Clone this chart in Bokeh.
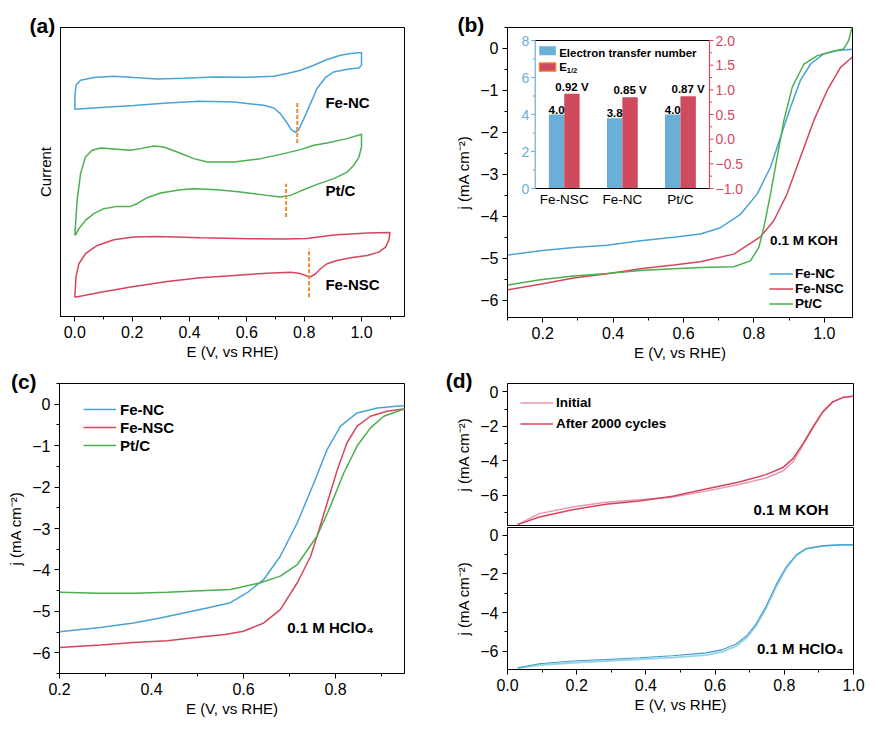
import numpy as np
from bokeh.plotting import figure
from bokeh.models import (Range1d, SingleIntervalTicker, FixedTicker, CustomJSTickFormatter,
                          Label, Legend, LegendItem)
from bokeh.layouts import row, column
from bokeh.embed import file_html
from bokeh.resources import INLINE
from bokeh.core.properties import value

FONT = "Liberation Sans"
MINUS = "\u2212"

# ---------------- data: (a) cyclic voltammograms (current in a.u.) ----------------
cv_fenc_E = [0.000, 0.000, 0.004, 0.020, 0.066, 0.136, 0.206, 0.287, 0.380, 0.485, 0.601, 0.694,
             0.741, 0.787, 0.834, 0.880, 0.927, 0.962, 1.000, 1.000, 0.991, 0.950, 0.903, 0.874,
             0.845, 0.822, 0.799, 0.781, 0.770, 0.755, 0.738, 0.717, 0.694, 0.659, 0.555, 0.438,
             0.322, 0.206, 0.090, 0.000]
cv_fenc_I = [206.7, 219.3, 231.0, 236.0, 238.7, 240.0, 238.7, 237.3, 238.0, 239.3, 239.0, 240.0,
             242.7, 246.0, 251.0, 256.7, 261.0, 262.7, 263.7, 251.0, 248.3, 247.0, 244.3, 238.7,
             227.7, 212.7, 197.7, 186.7, 184.0, 186.7, 194.3, 202.7, 208.3, 211.0, 214.3, 215.0,
             213.3, 210.7, 208.7, 207.0]
cv_ptc_E = [0.000, 0.004, 0.008, 0.020, 0.037, 0.060, 0.090, 0.136, 0.194, 0.229, 0.276, 0.310,
            0.357, 0.415, 0.462, 0.555, 0.648, 0.729, 0.787, 0.834, 0.880, 0.950, 1.000, 1.000,
            0.991, 0.973, 0.950, 0.903, 0.845, 0.787, 0.752, 0.717, 0.671, 0.578, 0.497, 0.415,
            0.369, 0.299, 0.252, 0.217, 0.194, 0.148, 0.101, 0.066, 0.037, 0.014, 0.002]
cv_ptc_I = [81.0, 99.3, 116.0, 142.7, 159.3, 166.0, 168.3, 167.3, 166.0, 167.7, 170.3, 169.3,
            164.3, 157.7, 154.3, 154.3, 157.7, 162.7, 166.7, 171.0, 173.3, 177.7, 182.0, 169.3,
            159.3, 151.0, 144.3, 137.7, 132.0, 125.3, 121.0, 119.3, 121.0, 124.3, 126.7, 127.7,
            126.7, 123.3, 118.7, 112.7, 110.0, 110.0, 107.7, 102.7, 96.0, 87.7, 81.0]
cv_fensc_E = [0.000, 0.004, 0.014, 0.037, 0.078, 0.136, 0.206, 0.287, 0.438, 0.613, 0.729, 0.810,
              0.903, 1.020, 1.099, 1.099, 1.095, 1.084, 1.060, 1.020, 0.962, 0.915, 0.880, 0.857,
              0.840, 0.820, 0.805, 0.781, 0.752, 0.671, 0.555, 0.438, 0.322, 0.206, 0.090, 0.000]
cv_fensc_I = [19.3, 39.3, 52.7, 62.7, 71.0, 76.7, 79.3, 80.0, 78.7, 77.7, 77.3, 78.0,
              81.3, 83.3, 84.0, 82.7, 76.0, 69.3, 64.3, 61.0, 58.7, 56.0, 52.7, 47.7,
              42.7, 39.3, 41.0, 43.3, 44.3, 43.3, 41.0, 38.7, 35.0, 30.0, 24.3, 19.3]
cv_peak_E = [0.776, 0.737, 0.817]
cv_peak_lo = [173.3, 99.3, 19.3]
cv_peak_hi = [214.3, 132.7, 67.7]
cv_names = ["Fe-NC", "Pt/C", "Fe-NSC"]
cv_name_E = [0.874, 0.874, 0.874]
cv_name_I = [213.7, 126.0, 31.7]

# ---------------- data: (b) LSV in 0.1 M KOH ----------------
b_fenc_E = [0.10, 0.193, 0.288, 0.383, 0.478, 0.572, 0.648, 0.705, 0.762, 0.809, 0.847, 0.875,
            0.904, 0.932, 0.961, 0.998, 1.037, 1.079]
b_fenc_j = [-4.92, -4.82, -4.74, -4.69, -4.58, -4.50, -4.42, -4.27, -3.95, -3.47, -2.83, -2.12,
            -1.40, -0.76, -0.37, -0.13, -0.05, -0.02]
b_fensc_E = [0.10, 0.193, 0.288, 0.383, 0.478, 0.572, 0.648, 0.743, 0.818, 0.856, 0.894, 0.932,
             0.970, 1.008, 1.046, 1.079]
b_fensc_j = [-5.75, -5.62, -5.47, -5.37, -5.25, -5.16, -5.08, -4.90, -4.49, -4.11, -3.47, -2.59,
             -1.72, -1.00, -0.45, -0.21]
b_ptc_E = [0.10, 0.193, 0.288, 0.383, 0.478, 0.572, 0.648, 0.743, 0.790, 0.814, 0.828, 0.847,
           0.866, 0.885, 0.909, 0.942, 0.980, 1.027, 1.055, 1.069, 1.079]
b_ptc_j = [-5.64, -5.51, -5.42, -5.36, -5.29, -5.25, -5.22, -5.20, -5.06, -4.74, -4.27, -3.47,
           -2.59, -1.72, -0.92, -0.37, -0.17, -0.06, -0.01, 0.19, 0.51]

inset_cats = ["Fe-NSC", "Fe-NC", "Pt/C"]
inset_n = [4.0, 3.8, 4.0]              # electron transfer number
inset_e12 = [0.92, 0.85, 0.87]         # E1/2 (V)
inset_n_lim = (0, 8)
inset_e_lim = (-1.0, 2.0)
inset_n_major = [0, 2, 4, 6, 8]
inset_n_minor = [1, 3, 5, 7]
inset_e_major = [-1.0, -0.5, 0.0, 0.5, 1.0, 1.5, 2.0]
inset_e_minor = [-0.75, -0.25, 0.25, 0.75, 1.25, 1.75]

# ---------------- data: (c) LSV in 0.1 M HClO4 ----------------
c_fenc_E = [0.2, 0.289, 0.361, 0.419, 0.470, 0.521, 0.5715, 0.608, 0.644, 0.680, 0.717, 0.753,
            0.782, 0.811, 0.847, 0.891, 0.951]
c_fenc_j = [-5.49, -5.39, -5.28, -5.16, -5.04, -4.92, -4.79, -4.55, -4.23, -3.67, -2.86, -1.90,
            -1.09, -0.53, -0.21, -0.09, -0.03]
c_fensc_E = [0.2, 0.289, 0.361, 0.434, 0.506, 0.560, 0.600, 0.644, 0.680, 0.717, 0.746, 0.760,
             0.782, 0.804, 0.825, 0.847, 0.876, 0.912, 0.951]
c_fensc_j = [-5.87, -5.81, -5.75, -5.71, -5.62, -5.56, -5.48, -5.28, -4.96, -4.31, -3.67, -3.18,
             -2.38, -1.58, -0.93, -0.53, -0.29, -0.17, -0.11]
c_ptc_E = [0.2, 0.289, 0.361, 0.434, 0.506, 0.5715, 0.637, 0.680, 0.717, 0.760, 0.789, 0.818,
           0.847, 0.876, 0.905, 0.951]
c_ptc_j = [-4.54, -4.56, -4.56, -4.54, -4.50, -4.47, -4.31, -4.15, -3.87, -3.18, -2.46, -1.66,
           -1.01, -0.57, -0.29, -0.11]

# ---------------- data: (d) stability ----------------
d_koh_E = [0.029, 0.092, 0.188, 0.284, 0.381, 0.477, 0.574, 0.670, 0.747, 0.796, 0.825, 0.854,
           0.883, 0.911, 0.940, 0.969, 0.998]
d_koh_init = [-7.72, -7.08, -6.70, -6.42, -6.27, -6.12, -5.77, -5.38, -5.01, -4.60, -4.08, -3.10,
              -2.07, -1.18, -0.58, -0.33, -0.25]
d_koh_after = [-7.72, -7.28, -6.85, -6.54, -6.35, -6.07, -5.65, -5.24, -4.81, -4.40, -3.88, -3.01,
               -2.04, -1.16, -0.58, -0.33, -0.25]
d_acid_E = [0.029, 0.092, 0.188, 0.284, 0.381, 0.477, 0.574, 0.622, 0.661, 0.690, 0.718, 0.747,
            0.776, 0.806, 0.835, 0.863, 0.911, 0.960, 0.998]
d_acid_init = [-6.89, -6.72, -6.60, -6.51, -6.43, -6.34, -6.21, -6.03, -5.74, -5.34, -4.71, -3.79,
               -2.70, -1.70, -1.05, -0.70, -0.55, -0.50, -0.50]
d_acid_after = [-6.86, -6.65, -6.51, -6.43, -6.34, -6.24, -6.09, -5.92, -5.63, -5.23, -4.60, -3.69,
                -2.57, -1.62, -1.01, -0.70, -0.55, -0.50, -0.50]

# ---------------- colours ----------------
BLUE = "#4aa3d5"
RED = "#d6455c"
GREEN = "#4caf50"
ORANGE = "#ee8a2c"
BAR_BLUE = "#6baed6"
BAR_RED = "#cf4a5d"
AX_BLUE = "#6baed6"
AX_RED = "#d9475e"
PINK = "#e898b6"
LBLUE = "#98d3e8"
DBLUE = "#3c9bcb"


def base_fig(xr, yr, fw, fh, bl, br, bt, bb, x_axis=True):
    kw = {}
    if not x_axis:
        kw["x_axis_location"] = None
    p = figure(x_range=Range1d(*xr), y_range=Range1d(*yr), frame_width=fw, frame_height=fh,
               min_border_left=bl, min_border_right=br, min_border_top=bt, min_border_bottom=bb,
               output_backend="svg", toolbar_location=None, tools="", **kw)
    p.xgrid.visible = False
    p.ygrid.visible = False
    p.outline_line_color = "black"
    p.outline_line_width = 1
    p.outline_line_alpha = 1
    p.background_fill_color = "white"
    p.border_fill_color = "white"
    return p


def fmt(d):
    return CustomJSTickFormatter(
        code="const s = Math.abs(tick).toFixed(%d); return (tick < -1e-9 ? '%s' : '') + s;" % (d, MINUS))


def style_axis(ax, label, interval=None, digits=1, label_standoff=2):
    ax.axis_label = label
    ax.axis_label_text_font = FONT
    ax.axis_label_text_font_size = "15px"
    ax.axis_label_text_font_style = "normal"
    ax.axis_label_text_color = "black"
    ax.axis_label_standoff = label_standoff
    ax.major_label_text_font = FONT
    ax.major_label_text_font_size = "16px"
    ax.major_label_text_color = "black"
    ax.axis_line_color = "black"
    ax.major_tick_line_color = "black"
    ax.minor_tick_line_color = "black"
    ax.major_tick_in = 0
    ax.minor_tick_in = 0
    ax.major_tick_out = 5
    ax.minor_tick_out = 3
    ax.major_label_standoff = 4
    if interval is None:
        ax.ticker = FixedTicker(ticks=[], minor_ticks=[])
        ax.major_tick_out = 0
        ax.minor_tick_out = 0
        ax.major_label_standoff = 0
    else:
        ax.ticker = SingleIntervalTicker(interval=interval, num_minor_ticks=2)
        ax.formatter = fmt(digits)


def panel_label(p, text, x, y, dx, dy):
    # anchored at the frame's top-left corner, shifted in pixels; overlay level (not clipped)
    p.text(x=[x], y=[y], text=[text], x_offset=dx, y_offset=dy, text_font=value(FONT),
           text_font_size=value("21px"), text_font_style="bold", text_baseline="middle",
           text_align="left", text_color="black", level="overlay")


def note(p, text, x, y, size):
    p.add_layout(Label(x=x, y=y, text=text, text_font=FONT, text_font_size=size,
                       text_font_style="bold", text_baseline="middle", text_color="black"))


def legend(p, items, loc, gw, gh, size, standoff):
    lg = Legend(items=items, location=loc, orientation="vertical", glyph_width=gw, glyph_height=gh,
                label_height=gh, label_standoff=standoff, spacing=0, padding=0, margin=0,
                border_line_color=None, background_fill_alpha=0, label_text_font=FONT,
                label_text_font_size=size, label_text_font_style="bold", label_text_color="black")
    p.add_layout(lg)


YLAB = "j (mA cm\u207b\u00b2)"
XLAB = "E (V, vs RHE)"
LW = 1.5

# ================= (a) =================
pa = base_fig((-0.05, 1.15), (0, 288.7), 344, 289, 60, 36, 27, 50)
style_axis(pa.xaxis[0], XLAB, 0.2, 1)
style_axis(pa.yaxis[0], "Current", None, label_standoff=7)
for E, I, c in [(cv_fenc_E, cv_fenc_I, BLUE), (cv_ptc_E, cv_ptc_I, GREEN), (cv_fensc_E, cv_fensc_I, RED)]:
    pa.line(E, I, line_color=c, line_width=LW)
pa.segment(x0=cv_peak_E, y0=cv_peak_lo, x1=cv_peak_E, y1=cv_peak_hi, line_color=ORANGE,
           line_width=2, line_dash="4 2")
pa.text(x=cv_name_E, y=cv_name_I, text=cv_names, text_font=value(FONT), text_font_size=value("15px"),
        text_font_style="bold", text_baseline="middle", text_align="left", text_color="black")
panel_label(pa, "(a)", -0.05, 288.7, -31, -2)

# ================= (b) =================
FWB, FHB = 345, 290
pb = base_fig((0.1, 1.08), (-6.41, 0.5), FWB, FHB, 67, 20, 25, 51)
style_axis(pb.xaxis[0], XLAB, 0.2, 1)
style_axis(pb.yaxis[0], YLAB, 1, 0, label_standoff=5)
rb1 = pb.line(b_fenc_E, b_fenc_j, line_color=BLUE, line_width=LW)
rb2 = pb.line(b_fensc_E, b_fensc_j, line_color=RED, line_width=LW)
rb3 = pb.line(b_ptc_E, b_ptc_j, line_color=GREEN, line_width=LW)
legend(pb, [LegendItem(label="Fe-NC", renderers=[rb1]), LegendItem(label="Fe-NSC", renderers=[rb2]),
            LegendItem(label="Pt/C", renderers=[rb3])], (262, 6), 24, 15, "13.5px", 2)
note(pb, "0.1 M KOH", 0.846, -4.58, "13.5px")
panel_label(pb, "(b)", 0.1, 0.5, -50, -3)

# ---- inset (bar chart) drawn on extra ranges that map to a sub-box of the frame ----
def span(lo, hi, f0, f1):
    tot = (hi - lo) / (f1 - f0)
    start = lo - f0 * tot
    return Range1d(start, start + tot)

inset_px = (27.7, 202.0, 129.0, 277.0)   # left, right, bottom, top inside frame (px)
fx0, fx1 = inset_px[0] / FWB, inset_px[1] / FWB
fy0, fy1 = inset_px[2] / FHB, inset_px[3] / FHB
ncat = len(inset_cats)
pb.extra_x_ranges = {"ix": span(0, ncat, fx0, fx1)}
pb.extra_y_ranges = {"iyl": span(inset_n_lim[0], inset_n_lim[1], fy0, fy1),
                     "iyr": span(inset_e_lim[0], inset_e_lim[1], fy0, fy1)}
L = dict(x_range_name="ix", y_range_name="iyl")
R = dict(x_range_name="ix", y_range_name="iyr")
xc = np.arange(ncat) + 0.5
bw = 0.265
pb.vbar(x=xc - bw / 2, width=bw, bottom=inset_n_lim[0], top=inset_n, fill_color=BAR_BLUE,
        line_color=None, **L)
pb.vbar(x=xc + bw / 2, width=bw, bottom=inset_e_lim[0], top=inset_e12, fill_color=BAR_RED,
        line_color=None, **R)
txt = dict(text_font=value(FONT), text_color="black")
pb.text(x=xc - bw / 2, y=inset_n, text=["%.1f" % v for v in inset_n], text_align="center",
        text_baseline="bottom", y_offset=-1, text_font_size=value("11.5px"), text_font_style="bold",
        **txt, **L)
pb.text(x=xc + bw / 2, y=inset_e12, text=["%.2f V" % v for v in inset_e12], text_align="center",
        text_baseline="bottom", y_offset=-1, text_font_size=value("11.5px"), text_font_style="bold",
        **txt, **R)
# inset frame
pb.segment(x0=[0, 0], y0=[inset_n_lim[0], inset_n_lim[1]], x1=[ncat, ncat],
           y1=[inset_n_lim[0], inset_n_lim[1]], line_color="black", line_width=1, **L)
pb.segment(x0=[0], y0=[inset_n_lim[0]], x1=[0], y1=[inset_n_lim[1]], line_color=AX_BLUE,
           line_width=1.2, **L)
pb.segment(x0=[ncat], y0=[inset_e_lim[0]], x1=[ncat], y1=[inset_e_lim[1]], line_color=AX_RED,
           line_width=1.2, **R)
# inset ticks
pb.ray(x=[0] * len(inset_n_major), y=inset_n_major, length=4, angle=np.pi, length_units="screen",
       line_color=AX_BLUE, line_width=1, **L)
pb.ray(x=[0] * len(inset_n_minor), y=inset_n_minor, length=2.5, angle=np.pi, length_units="screen",
       line_color=AX_BLUE, line_width=1, **L)
pb.ray(x=[ncat] * len(inset_e_major), y=inset_e_major, length=4, angle=0, length_units="screen",
       line_color=AX_RED, line_width=1, **R)
pb.ray(x=[ncat] * len(inset_e_minor), y=inset_e_minor, length=2.5, angle=0, length_units="screen",
       line_color=AX_RED, line_width=1, **R)
pb.text(x=[0] * len(inset_n_major), y=inset_n_major, text=[str(t) for t in inset_n_major],
        x_offset=-6, text_align="right", text_baseline="middle", text_font=value(FONT),
        text_font_size=value("14px"), text_color=AX_BLUE, **L)
pb.text(x=[ncat] * len(inset_e_major), y=inset_e_major,
        text=[(MINUS if t < 0 else "") + "%.1f" % abs(t) for t in inset_e_major],
        x_offset=6, text_align="left", text_baseline="middle", text_font=value(FONT),
        text_font_size=value("14px"), text_color=AX_RED, **R)
pb.text(x=xc, y=[inset_n_lim[0]] * ncat, text=inset_cats, y_offset=3, text_align="center",
        text_baseline="top", text_font_size=value("13.5px"), **txt, **L)
# inset legend
pb.quad(left=[0.07], right=[0.355], bottom=[7.2], top=[7.69], fill_color=BAR_BLUE, line_color=None, **L)
pb.quad(left=[0.07], right=[0.355], bottom=[6.34], top=[6.79], fill_color=BAR_RED,
        line_color=ORANGE, line_width=1.2, **L)
pb.text(x=[0.413], y=[7.3], text=["Electron transfer number"], text_baseline="middle",
        text_font_size=value("11.5px"), text_font_style="bold", **txt, **L)
pb.text(x=[0.413], y=[6.56], text=["E"], text_baseline="middle",
        text_font_size=value("11.5px"), text_font_style="bold", **txt, **L)
pb.text(x=[0.413], y=[6.56], text=["1/2"], x_offset=7.6, y_offset=3, text_baseline="middle",
        text_font_size=value("7.5px"), text_font_style="bold", **txt, **L)

# ================= (c) =================
pc = base_fig((0.2, 0.95), (-6.5, 0.5), 345, 290, 59, 36, 17, 50)
style_axis(pc.xaxis[0], XLAB, 0.2, 1)
style_axis(pc.yaxis[0], YLAB, 1, 0, label_standoff=5)
rc1 = pc.line(c_fenc_E, c_fenc_j, line_color=BLUE, line_width=LW)
rc2 = pc.line(c_fensc_E, c_fensc_j, line_color=RED, line_width=LW)
rc3 = pc.line(c_ptc_E, c_ptc_j, line_color=GREEN, line_width=LW)
legend(pc, [LegendItem(label="Fe-NC", renderers=[rc1]), LegendItem(label="Fe-NSC", renderers=[rc2]),
            LegendItem(label="Pt/C", renderers=[rc3])], (24, 219), 33, 18, "15px", 4)
note(pc, "0.1 M HClO\u2084", 0.695, -5.40, "15px")
panel_label(pc, "(c)", 0.2, 0.5, -48.6, -2)

# ================= (d) =================
pd1 = base_fig((0.0, 1.0), (-7.77, 0.49), 346, 142, 67, 19, 17, 1, x_axis=False)
style_axis(pd1.yaxis[0], YLAB, 2, 0, label_standoff=5)
rd1 = pd1.line(d_koh_E, d_koh_init, line_color=PINK, line_width=LW)
rd2 = pd1.line(d_koh_E, d_koh_after, line_color=RED, line_width=LW)
legend(pd1, [LegendItem(label="Initial", renderers=[rd1]),
             LegendItem(label="After 2000 cycles", renderers=[rd2])], (13, 91), 33, 21, "13.5px", 3)
note(pd1, "0.1 M KOH", 0.711, -6.83, "15px")
panel_label(pd1, "(d)", 0.0, 0.49, -61.7, -3.3)

pd2 = base_fig((0.0, 1.0), (-6.95, 0.4), 346, 142, 67, 19, 1, 50)
style_axis(pd2.xaxis[0], XLAB, 0.2, 1)
style_axis(pd2.yaxis[0], YLAB, 2, 0, label_standoff=5)
pd2.line(d_acid_E, d_acid_init, line_color=LBLUE, line_width=LW + 0.3)
pd2.line(d_acid_E, d_acid_after, line_color=DBLUE, line_width=1.1)
note(pd2, "0.1 M HClO\u2084", 0.721, -5.85, "15px")

layout = column(row(pa, pb), row(pc, column(pd1, pd2)))
open("out.html", "w").write(file_html(layout, INLINE))
